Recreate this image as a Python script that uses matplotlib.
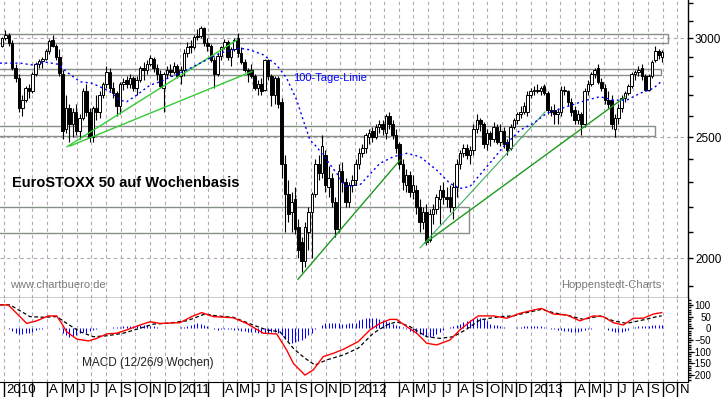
"""EuroSTOXX 50 weekly candles with 100-day line, support boxes, trend lines and MACD panel."""

import pandas as pd
import numpy as np
import matplotlib
matplotlib.use("Agg")
import matplotlib.pyplot as plt
import matplotlib.transforms as mtransforms
from matplotlib.patches import Rectangle
from matplotlib.ticker import NullFormatter

plt.rcParams["font.family"] = ["Liberation Sans", "DejaVu Sans"]

# ---- data ----------------------------------------------------------------
FIRST_WEEK = "2009-12-28"   # Monday of the first weekly candle

opens = [
    2960, 3000, 3020, 2975, 2840, 2790, 2640, 2680, 2740, 2720,
    2810, 2860, 2875, 2890, 2930, 2990, 2960, 2900, 2810, 2540,
    2640, 2560, 2620, 2530, 2590, 2720, 2620, 2500, 2640, 2620,
    2700, 2760, 2820, 2740, 2710, 2650, 2760, 2780, 2760, 2790,
    2740, 2780, 2840, 2830, 2860, 2890, 2840, 2810, 2740, 2810,
    2830, 2820, 2850, 2800, 2830, 2920, 2960, 2950, 3005, 3015,
    3055, 2975, 2960, 2885, 2810, 2905, 2950, 2980, 2900, 2940,
    3000, 2920, 2870, 2830, 2830, 2800, 2740, 2760, 2730, 2880,
    2800, 2700, 2790, 2670, 2380, 2250, 2180, 2230, 2120, 2060,
    1990, 2100, 2180, 2250, 2380, 2340, 2420, 2280, 2320, 2220,
    2110, 2350, 2300, 2220, 2290, 2310, 2380, 2430, 2450, 2500,
    2530, 2500, 2550, 2560, 2520, 2600, 2560, 2510, 2470, 2380,
    2290, 2330, 2260, 2270, 2200, 2140, 2180, 2070, 2170, 2190,
    2230, 2270, 2240, 2240, 2200, 2280, 2380, 2430, 2450, 2420,
    2440, 2540, 2580, 2560, 2470, 2520, 2490, 2550, 2480, 2530,
    2480, 2450, 2550, 2580, 2610, 2620, 2620, 2700, 2720, 2730,
    2720, 2750, 2710, 2630, 2630, 2610, 2620, 2730, 2720, 2670,
    2630, 2580, 2610, 2560, 2720, 2760, 2810, 2840, 2770, 2740,
    2680, 2680, 2540, 2590, 2640, 2690, 2710, 2750, 2810, 2820,
    2840, 2800, 2730, 2800, 2880, 2930, 2900,
]
highs = [
    3005, 3045, 3030, 2990, 2860, 2810, 2700, 2750, 2760, 2820,
    2870, 2890, 2900, 2940, 2995, 3020, 2970, 2940, 2830, 2700,
    2660, 2640, 2660, 2610, 2740, 2760, 2640, 2650, 2700, 2720,
    2770, 2850, 2840, 2770, 2720, 2770, 2790, 2800, 2810, 2800,
    2800, 2850, 2870, 2880, 2910, 2900, 2860, 2830, 2820, 2850,
    2860, 2870, 2860, 2850, 2940, 2980, 2990, 3020, 3050, 3070,
    3065, 3000, 2970, 2900, 2920, 2960, 2995, 2990, 2950, 3000,
    3030, 2950, 2890, 2840, 2860, 2810, 2780, 2790, 2890, 2890,
    2810, 2800, 2800, 2690, 2420, 2310, 2260, 2280, 2150, 2080,
    2140, 2200, 2260, 2400, 2420, 2510, 2440, 2370, 2340, 2240,
    2380, 2390, 2320, 2300, 2330, 2400, 2450, 2470, 2520, 2540,
    2550, 2560, 2580, 2580, 2610, 2620, 2580, 2540, 2480, 2400,
    2360, 2350, 2330, 2290, 2230, 2200, 2210, 2190, 2210, 2250,
    2290, 2300, 2280, 2290, 2300, 2400, 2440, 2470, 2470, 2460,
    2560, 2610, 2590, 2570, 2540, 2530, 2570, 2560, 2560, 2550,
    2490, 2560, 2590, 2620, 2650, 2670, 2720, 2740, 2750, 2760,
    2750, 2760, 2720, 2650, 2660, 2640, 2750, 2750, 2730, 2690,
    2650, 2630, 2620, 2740, 2780, 2820, 2840, 2860, 2790, 2760,
    2720, 2700, 2610, 2660, 2700, 2720, 2760, 2820, 2830, 2850,
    2860, 2810, 2810, 2880, 2960, 2940, 2935,
]
lows = [
    2950, 2990, 2960, 2830, 2770, 2620, 2600, 2670, 2690, 2710,
    2800, 2840, 2840, 2880, 2915, 2950, 2880, 2800, 2490, 2520,
    2480, 2500, 2510, 2490, 2580, 2600, 2480, 2480, 2580, 2590,
    2690, 2740, 2720, 2690, 2600, 2610, 2730, 2740, 2740, 2720,
    2700, 2770, 2780, 2810, 2850, 2820, 2780, 2740, 2620, 2790,
    2800, 2810, 2790, 2760, 2800, 2900, 2920, 2940, 2990, 3000,
    2960, 2930, 2870, 2740, 2800, 2880, 2940, 2880, 2850, 2930,
    2900, 2860, 2820, 2770, 2790, 2730, 2700, 2700, 2720, 2780,
    2650, 2660, 2640, 2320, 2100, 2140, 2100, 2090, 2000, 1950,
    1970, 2030, 2000, 2240, 2310, 2320, 2260, 2240, 2200, 2080,
    2100, 2260, 2200, 2200, 2260, 2290, 2360, 2410, 2430, 2470,
    2480, 2490, 2520, 2510, 2490, 2540, 2490, 2430, 2360, 2270,
    2260, 2240, 2230, 2170, 2100, 2110, 2050, 2060, 2130, 2170,
    2130, 2210, 2200, 2180, 2150, 2240, 2360, 2410, 2400, 2380,
    2420, 2520, 2530, 2450, 2440, 2460, 2480, 2470, 2460, 2450,
    2420, 2440, 2540, 2560, 2590, 2610, 2600, 2690, 2700, 2710,
    2700, 2700, 2610, 2600, 2560, 2560, 2600, 2700, 2650, 2600,
    2560, 2560, 2510, 2550, 2700, 2750, 2790, 2760, 2720, 2660,
    2640, 2540, 2500, 2560, 2620, 2670, 2700, 2740, 2780, 2800,
    2780, 2720, 2720, 2790, 2870, 2890, 2870,
]
closes = [
    3000, 3020, 2975, 2840, 2790, 2640, 2680, 2740, 2720, 2810,
    2860, 2875, 2890, 2930, 2985, 2960, 2900, 2815, 2530, 2640,
    2560, 2620, 2530, 2590, 2720, 2620, 2500, 2640, 2620, 2700,
    2760, 2820, 2740, 2710, 2650, 2760, 2770, 2760, 2790, 2740,
    2780, 2840, 2830, 2860, 2895, 2840, 2810, 2750, 2810, 2830,
    2820, 2850, 2800, 2830, 2920, 2955, 2950, 3005, 3015, 3060,
    2975, 2960, 2885, 2810, 2905, 2950, 2980, 2900, 2940, 2990,
    2920, 2870, 2830, 2810, 2800, 2740, 2760, 2720, 2880, 2800,
    2700, 2790, 2660, 2380, 2250, 2170, 2220, 2110, 2030, 1990,
    2120, 2180, 2250, 2380, 2340, 2460, 2290, 2320, 2220, 2110,
    2350, 2300, 2220, 2290, 2310, 2380, 2430, 2450, 2510, 2520,
    2500, 2550, 2560, 2540, 2600, 2560, 2510, 2450, 2380, 2300,
    2330, 2260, 2290, 2200, 2140, 2180, 2060, 2170, 2190, 2240,
    2270, 2240, 2230, 2200, 2280, 2380, 2430, 2450, 2420, 2440,
    2540, 2580, 2560, 2470, 2520, 2490, 2550, 2480, 2530, 2470,
    2440, 2550, 2580, 2610, 2620, 2650, 2700, 2720, 2730, 2720,
    2740, 2710, 2630, 2620, 2610, 2620, 2730, 2720, 2670, 2620,
    2580, 2610, 2560, 2720, 2760, 2810, 2830, 2770, 2740, 2680,
    2660, 2560, 2590, 2640, 2690, 2710, 2750, 2810, 2820, 2830,
    2800, 2730, 2800, 2870, 2930, 2910, 2925,
]

# 100-Tage-Linie (decimal year, index points)
ma_t = [2009.977, 2010.091, 2010.165, 2010.233, 2010.307, 2010.357, 2010.433,
        2010.499, 2010.546, 2010.603, 2010.660, 2010.698, 2010.755, 2010.831,
        2010.888, 2010.973, 2011.040, 2011.134, 2011.229, 2011.343, 2011.400,
        2011.476, 2011.552, 2011.609, 2011.666, 2011.703, 2011.742, 2011.780,
        2011.837, 2011.894, 2011.941, 2012.026, 2012.140, 2012.216, 2012.292,
        2012.368, 2012.463, 2012.538, 2012.595, 2012.652, 2012.747, 2012.842,
        2012.937, 2013.013, 2013.089, 2013.203, 2013.316, 2013.392, 2013.468,
        2013.544, 2013.620, 2013.696, 2013.739]
ma_val = [2866, 2866, 2856, 2872, 2860, 2820, 2769, 2762, 2744, 2719,
          2677, 2669, 2702, 2752, 2769, 2804, 2830, 2874, 2919, 2946,
          2937, 2910, 2856, 2787, 2677, 2580, 2487, 2456, 2397, 2339,
          2283, 2290, 2383, 2412, 2427, 2412, 2353, 2296, 2275, 2283,
          2367, 2456, 2533, 2565, 2613, 2645, 2677, 2694, 2677, 2677,
          2711, 2736, 2769]

# MACD (12/26/9) line and signal line
macd_t = [2009.977, 2010.024, 2010.072, 2010.129, 2010.186, 2010.252, 2010.300,
          2010.328, 2010.357, 2010.414, 2010.480, 2010.528, 2010.585, 2010.641,
          2010.698, 2010.774, 2010.831, 2010.888, 2011.002, 2011.068, 2011.125,
          2011.191, 2011.305, 2011.381, 2011.476, 2011.552, 2011.609, 2011.647,
          2011.713, 2011.760, 2011.817, 2011.874, 2011.931, 2012.016, 2012.083,
          2012.140, 2012.197, 2012.235, 2012.292, 2012.349, 2012.406, 2012.463,
          2012.538, 2012.595, 2012.652, 2012.699, 2012.785, 2012.861, 2012.937,
          2013.013, 2013.060, 2013.126, 2013.203, 2013.278, 2013.354, 2013.411,
          2013.468, 2013.525, 2013.582, 2013.639, 2013.696, 2013.743]
macd_val = [100, 100, 64, 21, 32, 53, 53, 21, -15, -46,
            -54, -43, -24, -21, -7, 14, 28, 21, 24, 50,
            67, 50, 45, 21, -21, -24, -93, -150, -200, -178,
            -121, -107, -90, -57, -7, 21, 38, 38, 7, -21,
            -64, -71, -50, -7, 28, 53, 53, 43, 64, 78,
            85, 61, 57, 32, 53, 50, 24, 14, 43, 43,
            61, 67]
signal_t = [2009.977, 2010.034, 2010.091, 2010.148, 2010.224, 2010.300, 2010.357,
            2010.433, 2010.508, 2010.585, 2010.679, 2010.774, 2010.850, 2010.926,
            2011.040, 2011.144, 2011.211, 2011.305, 2011.419, 2011.495, 2011.571,
            2011.647, 2011.713, 2011.770, 2011.837, 2011.931, 2012.016, 2012.102,
            2012.178, 2012.235, 2012.311, 2012.406, 2012.481, 2012.557, 2012.633,
            2012.709, 2012.823, 2012.899, 2012.975, 2013.060, 2013.126, 2013.221,
            2013.297, 2013.392, 2013.468, 2013.544, 2013.639, 2013.715, 2013.743]
signal_val = [100, 100, 75, 50, 47, 50, 21, -15, -36, -32,
              -21, 0, 18, 21, 32, 61, 53, 47, 14, -7,
              -15, -86, -128, -157, -135, -114, -85, -21, 14, 28,
              7, -36, -43, -36, -4, 36, 50, 53, 67, 81,
              67, 53, 38, 53, 32, 21, 36, 50, 53]

# MACD histogram, one value per weekly candle
hist_val = [
    0, 0, -2, -10, -20, -24, -24, -22, -18, -14,
    -8, -3, -2, 0, 2, 2, 2, -5, -20, -30,
    -36, -34, -28, -20, -15, -18, -12, -8, -4, 0,
    2, 3, 3, 4, 5, 6, 8, 8, 10, 10,
    12, 14, 14, 12, 10, 8, 6, 2, 0, 1,
    0, 0, 2, 4, 6, 10, 16, 20, 21, 18,
    14, 8, 2, -4, -6, -3, -2, -4, -5, -6,
    -8, -10, -12, -14, -14, -16, -18, -18, -20, -18,
    -16, -14, -20, -30, -45, -55, -64, -60, -55, -50,
    -40, -30, -20, -5, 3, 15, 22, 24, 24, 24,
    22, 20, 20, 22, 22, 24, 35, 40, 45, 45,
    45, 42, 40, 35, 30, 25, 20, 15, 10, 5,
    -5, -10, -15, -20, -25, -30, -35, -36, -32, -25,
    -15, -8, 0, 5, 10, 15, 20, 25, 30, 35,
    40, 43, 42, 38, 30, 20, 15, 12, 10, 6,
    3, 0, 2, 6, 7, 8, 8, 9, 9, 8,
    8, 6, 0, -2, -4, -6, -8, -10, -12, -14,
    -15, -14, -10, -8, -4, -2, 2, 3, 2, 0,
    -6, -10, -14, -16, -15, -12, -6, 0, 6, 8,
    10, 10, 10, 12, 12, 14, 15,
]

# grey support / resistance boxes (end in decimal years, index range)
box_end = [2013.779, 2013.739, 2013.705, 2012.647]
box_low = [2972, 2804, 2506, 2095]
box_high = [3022, 2834, 2554, 2198]

# green trend lines
trend_t0 = [2010.359, 2010.376, 2011.673, 2012.368, 2012.396]
trend_p0 = [2457, 2460, 1924, 2039, 2057]
trend_t1 = [2011.326, 2011.411, 2012.254, 2013.079, 2013.534]
trend_p1 = [2991, 2822, 2397, 2619, 2692]
trend_colors = ["#33cc33", "#33cc33", "#1e9a1e", "#3fae5f", "#1e9a1e"]
trend_widths = [1.0, 1.0, 1.0, 0.8, 1.0]

month_letters = ["", "", "", "A", "M", "J", "J", "A", "S", "O", "N", "D"]

# ---- layout ---------------------------------------------------------------
W, H = 723, 397
X_LEFT, X_RIGHT = 2009.97723, 2013.89300
GRID = "#b4a6b6"
GRID_LS = (0, (3, 3))


def to_year(dates):
    return 2010 + (dates - pd.Timestamp("2010-01-01")).days / 365.25


def main() -> None:
    weeks = pd.date_range(FIRST_WEEK, periods=len(closes), freq="7D")
    t = np.asarray(to_year(weeks))
    o, hi, lo, c = (np.array(a, dtype=float) for a in (opens, highs, lows, closes))
    months = pd.date_range("2010-01-01", "2013-11-01", freq="MS")
    mt = np.asarray(to_year(months))

    fig = plt.figure(figsize=(W / 100, H / 100), dpi=100)
    ax = fig.add_axes([0, 99 / H, 688 / W, 298 / H])
    ax2 = fig.add_axes([0, 15 / H, 688 / W, 84 / H])

    # main panel
    ax.set_yscale("log")
    ax.set_ylim(1859, 3219.6)
    ax.set_xlim(X_LEFT, X_RIGHT)
    for m in mt:
        ax.axvline(m, color=GRID, ls=GRID_LS, lw=0.8, zorder=0)
        ax2.axvline(m, color=GRID, ls=GRID_LS, lw=0.8, zorder=0)
    for lvl in (2000, 2500, 3000):
        ax.axhline(lvl, color=GRID, ls=GRID_LS, lw=0.8, zorder=0)

    for end, low, high in zip(box_end, box_low, box_high):
        ax.add_patch(Rectangle((X_LEFT - 0.02, low), end - X_LEFT + 0.02, high - low,
                               fill=False, edgecolor="#858f86", lw=1.0, zorder=1))

    bw = 0.0145
    up = c >= o
    ax.vlines(t, lo, hi, color="black", lw=0.8, zorder=3)
    ax.bar(t[up], (c - o)[up], bottom=o[up], width=bw, color="white",
           edgecolor="black", lw=0.7, zorder=4)
    ax.bar(t[~up], (o - c)[~up], bottom=c[~up], width=bw, color="black",
           edgecolor="black", lw=0.7, zorder=4)

    for t0, p0, t1, p1, col, lw in zip(trend_t0, trend_p0, trend_t1, trend_p1,
                                       trend_colors, trend_widths):
        ax.plot([t0, t1], [p0, p1], color=col, lw=lw, zorder=5)

    ax.plot(ma_t, ma_val, color="#0000ff", lw=1.0, ls=(0, (1.5, 2.2)), zorder=6)

    ax.text(293 / 688, 1 - 78 / 298, "100-Tage-Linie", transform=ax.transAxes,
            color="#0000ff", fontsize=8, ha="left", va="center")
    ax.text(12 / 688, 1 - 183 / 298, "EuroSTOXX 50 auf Wochenbasis",
            transform=ax.transAxes, fontsize=10.5, fontweight="bold",
            ha="left", va="center")
    ax.text(10 / 688, 1 - 285 / 298, "www.chartbuero.de", transform=ax.transAxes,
            color="#7a7a7a", fontsize=8, ha="left", va="center")
    ax.text(561 / 688, 1 - 285 / 298, "Hoppenstedt-Charts", transform=ax.transAxes,
            color="#7a7a7a", fontsize=8, ha="left", va="center")

    ax.set_yticks([2000, 2500, 3000], labels=["2000", "2500", "3000"])
    ax.set_yticks([v for v in range(1900, 3300, 100) if v % 500], minor=True)
    ax.yaxis.set_minor_formatter(NullFormatter())
    ax.yaxis.tick_right()
    ax.tick_params(axis="y", which="both", direction="out", length=3.5, width=1,
                   pad=1.5, labelsize=8.5, right=True, left=False)
    ax.tick_params(axis="x", which="both", bottom=False, labelbottom=False)
    for side in ("left", "top"):
        ax.spines[side].set_visible(False)
    ax.spines["right"].set_linewidth(1)
    ax.spines["bottom"].set_linewidth(1)

    # MACD panel
    ax2.set_xlim(X_LEFT, X_RIGHT)
    ax2.set_ylim(-229.5, 129.5)
    ax2.vlines(t, 0, hist_val, color="#0000ff", lw=0.75, zorder=2)
    ax2.plot(signal_t, signal_val, color="black", lw=0.9, ls=(0, (3, 2)), zorder=3)
    ax2.plot(macd_t, macd_val, color="#ff0000", lw=1.0, zorder=4)
    ax2.text(82 / 688, (382 - 363) / 84, "MACD (12/26/9 Wochen)",
             transform=ax2.transAxes, color="#222222", fontsize=8.5,
             ha="left", va="center")

    ax2.yaxis.tick_right()
    ax2.set_yticks([100, 50, 0, -50, -100, -150, -200])
    ax2.set_yticks(range(-220, 130, 10), minor=True)
    ax2.tick_params(axis="y", which="major", direction="out", length=3.5, width=1,
                    pad=13, labelsize=7, right=True, left=False)
    ax2.tick_params(axis="y", which="minor", direction="out", length=2.5, width=1,
                    right=True, left=False)
    for lab in ax2.get_yticklabels():
        lab.set_horizontalalignment("right")

    ax2.set_xticks(mt)
    ax2.tick_params(axis="x", which="major", direction="out", length=11, width=1,
                    labelbottom=False)
    for side in ("left", "top"):
        ax2.spines[side].set_visible(False)

    trans = mtransforms.blended_transform_factory(ax2.transData, ax2.transAxes)
    trans = mtransforms.offset_copy(trans, fig=fig, x=2, y=0, units="dots")
    for d, m in zip(months, mt):
        label = str(d.year) if d.month == 1 else month_letters[d.month - 1]
        if label:
            ax2.text(m, -8 / 84, label, transform=trans, fontsize=9.5,
                     ha="left", va="center", clip_on=False)

    fig.savefig("out.png", dpi=100)
    plt.close(fig)


if __name__ == "__main__":
    main()
